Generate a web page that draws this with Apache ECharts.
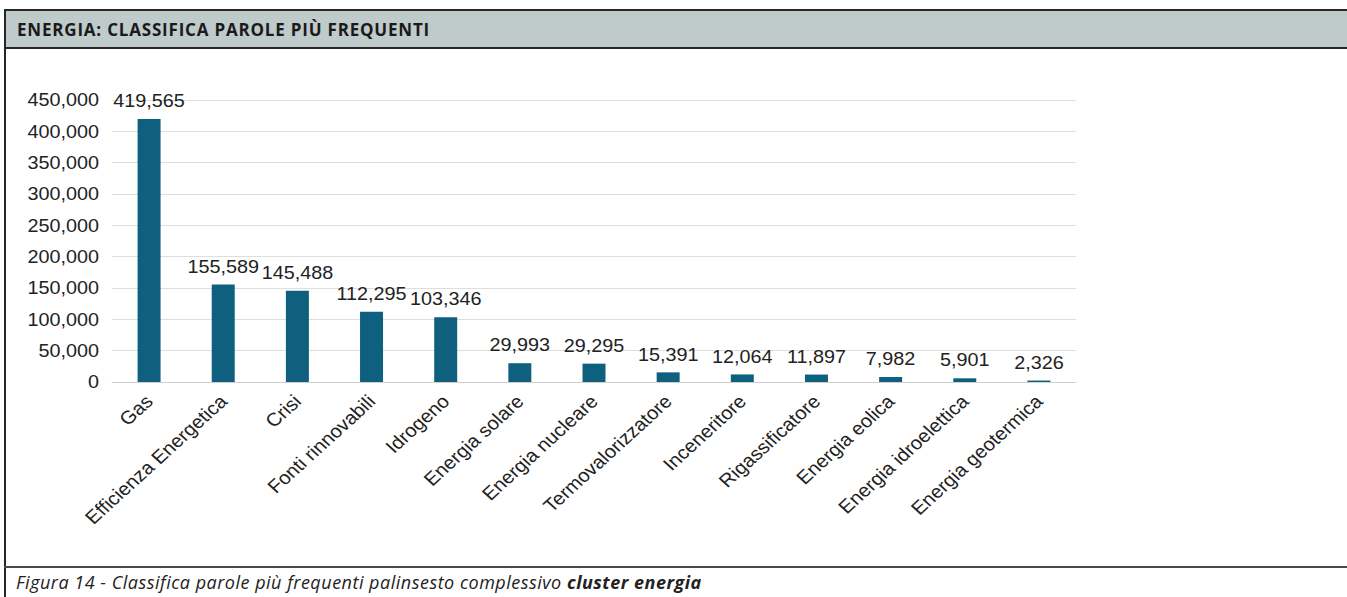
<!DOCTYPE html>
<html>
<head>
<meta charset="utf-8">
<script src="https://cdn.jsdelivr.net/npm/echarts@6/dist/echarts.min.js"></script>
<style>
  html, body { margin: 0; padding: 0; width: 1347px; height: 597px; overflow: hidden; background: #fff; }
  #header {
    position: absolute; left: 4px; top: 9px; width: 1400px; height: 36px;
    background: #bfcacb; border-top: 2px solid #262626; border-bottom: 2px solid #262626;
    font-family: "Open Sans", sans-serif; font-weight: 700; font-size: 17px; letter-spacing: 0.8px; color: #1a1a1a;
    line-height: 36px;
  }
  #header span { position: absolute; left: 13px; top: 1px; }
  #leftline { position: absolute; left: 4px; top: 9px; width: 2px; height: 600px; background: #262626; }
  #sep { position: absolute; left: 4px; top: 566px; width: 1400px; height: 2px; background: #4a4a4a; }
  #caption {
    position: absolute; left: 16px; top: 570px;
    font-family: "Open Sans", sans-serif; font-style: italic; font-size: 18px; letter-spacing: 0.5px; color: #222;
    white-space: nowrap;
  }
  #chart { position: absolute; left: 0; top: 0; height: 597px; transform-origin: 0 0; }
</style>
</head>
<body>
<div id="header"><span>ENERGIA: CLASSIFICA PAROLE PIÙ FREQUENTI</span></div>
<div id="leftline"></div>
<div id="sep"></div>
<div id="caption">Figura 14 - Classifica parole più frequenti palinsesto complessivo <b>cluster energia</b></div>
<div id="chart"></div>
<script>
// Word frequency ranking, energy cluster
const categories = [
  'Gas', 'Efficienza Energetica', 'Crisi', 'Fonti rinnovabili', 'Idrogeno',
  'Energia solare', 'Energia nucleare', 'Termovalorizzatore', 'Inceneritore',
  'Rigassificatore', 'Energia eolica', 'Energia idroelettica', 'Energia geotermica'
];
const counts = [419565, 155589, 145488, 112295, 103346, 29993, 29295, 15391, 12064, 11897, 7982, 5901, 2326];
const yTicks = { min: 0, max: 450000, step: 50000 };

// The plot is drawn slightly wider than tall (horizontal stretch).
const stretch = 1.1;
const pageW = 1347;
const el = document.getElementById('chart');
el.style.width = (pageW / stretch) + 'px';
el.style.transform = 'scaleX(' + stretch + ')';

const fmt = v => Number(v).toLocaleString('en-US');
const font = '"Liberation Sans", Arial, sans-serif';

const chart = echarts.init(el, null, { renderer: 'svg' });
chart.setOption({
  animation: false,
  grid: { left: 112 / stretch, top: 100, width: 964 / stretch, height: 282, containLabel: false },
  xAxis: {
    type: 'category',
    data: categories,
    axisLine: { show: true, lineStyle: { color: '#d0d0d0', width: 1 } },
    axisTick: { show: false },
    axisLabel: {
      rotate: 45, interval: 0, margin: 16,
      fontFamily: font, fontSize: 18.5, color: '#222'
    }
  },
  yAxis: {
    type: 'value',
    min: yTicks.min, max: yTicks.max, interval: yTicks.step,
    axisLine: { show: false },
    axisTick: { show: false },
    splitLine: { lineStyle: { color: '#dedede', width: 1 } },
    axisLabel: {
      margin: 13 / stretch, formatter: fmt,
      fontFamily: font, fontSize: 18, color: '#222'
    }
  },
  series: [{
    type: 'bar',
    data: counts,
    barWidth: '31%',
    itemStyle: { color: '#0f5f7e' },
    label: {
      show: true, position: 'top', distance: 9,
      formatter: p => fmt(p.value),
      fontFamily: font, fontSize: 18, color: '#222'
    }
  }]
});
</script>
</body>
</html>
